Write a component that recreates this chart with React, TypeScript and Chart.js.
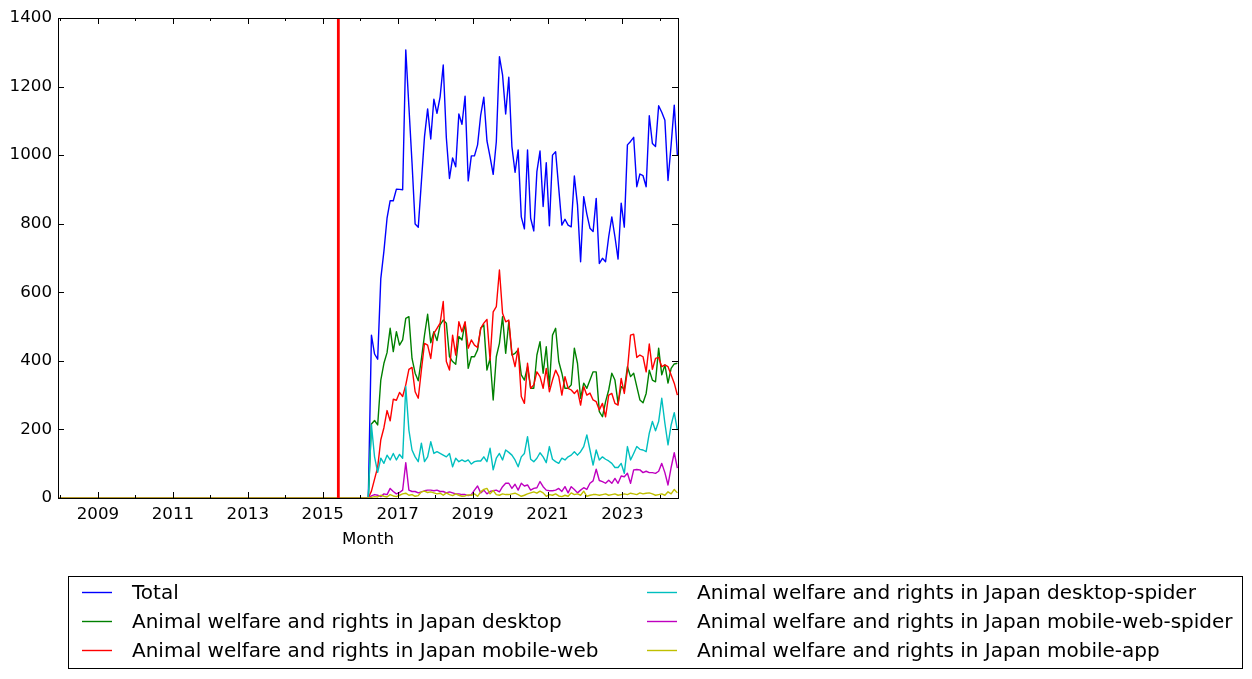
import React, { useEffect, useRef } from 'react';
import { Chart, registerables } from 'chart.js';

Chart.register(...registerables);

// Month index 0 = 2007-12; the article has no views until 2016-04 (index 100).
const ZERO_MONTHS = 100;

// Monthly views from 2016-04 to 2024-06 (99 months)
const TOTAL = [
  475, 420, 405, 640, 720, 816, 867, 867, 901, 900, 899, 1307, 1142, 978, 799, 790, 922, 1054, 1135, 1047,
  1163, 1122, 1170, 1263, 1050, 932, 992, 966, 1120, 1090, 1172, 925, 998, 998, 1030, 1117, 1169, 1042, 995, 944,
  1039, 1287, 1234, 1120, 1227, 1025, 950, 1015, 820, 785, 1015, 816, 779, 952, 1012, 850, 978, 794, 1000, 1010,
  903, 796, 813, 796, 791, 939, 855, 689, 879, 828, 787, 777, 874, 684, 699, 689, 762, 820, 762, 697,
  860, 790, 1030, 1040, 1052, 908, 945, 940, 908, 1115, 1034, 1025, 1144, 1125, 1102, 926, 1030, 1146, 1000,
];
const DESKTOP = [
  216, 226, 213, 344, 393, 424, 495, 427, 485, 446, 461, 524, 529, 407, 364, 342, 405, 475, 536, 453,
  485, 459, 505, 519, 510, 412, 398, 390, 471, 461, 511, 378, 412, 412, 432, 495, 505, 373, 407, 286,
  412, 451, 529, 422, 514, 417, 422, 432, 359, 344, 383, 320, 320, 417, 456, 364, 441, 325, 475, 495,
  398, 364, 320, 320, 330, 437, 393, 291, 335, 320, 344, 368, 368, 252, 237, 281, 315, 364, 344, 276,
  325, 317, 383, 354, 364, 325, 286, 278, 305, 373, 344, 339, 437, 359, 388, 335, 378, 391, 393,
];
const MOBILE_WEB = [
  20, 55, 90, 170, 205, 255, 225, 288, 285, 308, 296, 330, 375, 381, 310, 291, 373, 451, 446, 407,
  480, 495, 510, 573, 398, 373, 475, 417, 514, 485, 514, 437, 461, 446, 439, 495, 510, 521, 402, 543,
  558, 665, 539, 514, 519, 422, 383, 437, 296, 276, 393, 320, 330, 368, 354, 320, 378, 310, 344, 373,
  354, 300, 354, 320, 315, 305, 315, 271, 325, 300, 306, 286, 281, 257, 276, 237, 300, 305, 276, 271,
  349, 305, 373, 475, 478, 410, 417, 412, 368, 449, 375, 407, 410, 383, 388, 383, 359, 335, 300,
];
const DESKTOP_SPIDER = [
  213, 120, 75, 116, 101, 125, 111, 130, 111, 127, 116, 325, 198, 140, 120, 106, 160, 106, 120, 164,
  130, 135, 130, 125, 120, 130, 91, 116, 106, 111, 106, 111, 99, 106, 108, 108, 120, 106, 145, 82,
  116, 130, 111, 140, 133, 125, 111, 91, 120, 130, 179, 113, 106, 116, 132, 120, 103, 150, 113, 106,
  101, 116, 111, 120, 125, 135, 125, 135, 150, 184, 140, 96, 140, 111, 120, 113, 108, 101, 89, 89,
  101, 72, 150, 111, 130, 150, 142, 140, 135, 189, 223, 196, 223, 291, 218, 155, 213, 249, 198,
];
const MOBILE_WEB_SPIDER = [
  6, 10, 8, 4, 12, 10, 28, 19, 12, 16, 23, 103, 23, 19, 19, 15, 18, 21, 23, 23,
  21, 23, 19, 19, 15, 18, 15, 12, 12, 10, 10, 7, 10, 23, 35, 15, 23, 12, 19, 21,
  23, 18, 33, 43, 43, 28, 40, 23, 43, 35, 38, 23, 28, 30, 48, 33, 23, 21, 21, 23,
  28, 19, 33, 15, 33, 25, 15, 23, 30, 25, 43, 50, 84, 51, 48, 43, 52, 43, 57, 43,
  64, 62, 72, 43, 82, 83, 82, 74, 78, 74, 74, 72, 78, 101, 74, 38, 89, 132, 87,
];
const MOBILE_APP = [
  2, 4, 3, 8, 5, 3, 10, 6, 4, 8, 12, 14, 8, 10, 5, 7, 18, 20, 16, 18,
  15, 12, 14, 8, 15, 10, 7, 12, 8, 5, 6, 9, 8, 12, 5, 18, 25, 28, 12, 22,
  10, 8, 12, 10, 10, 12, 14, 10, 5, 8, 12, 15, 18, 14, 20, 15, 5, 10, 8, 12,
  6, 4, 8, 5, 15, 10, 12, 8, 20, 5, 8, 10, 10, 8, 10, 12, 8, 10, 12, 8,
  10, 12, 10, 14, 12, 10, 15, 12, 14, 15, 12, 8, 10, 12, 8, 18, 12, 25, 15,
];

const SERIES = [TOTAL, DESKTOP, MOBILE_WEB, DESKTOP_SPIDER, MOBILE_WEB_SPIDER, MOBILE_APP];
const SERIES_LABELS = [
  'Total',
  'Animal welfare and rights in Japan desktop',
  'Animal welfare and rights in Japan mobile-web',
  'Animal welfare and rights in Japan desktop-spider',
  'Animal welfare and rights in Japan mobile-web-spider',
  'Animal welfare and rights in Japan mobile-app',
];
const SERIES_COLORS = ['#0000ff', '#008000', '#ff0000', '#00bfbf', '#bf00bf', '#bfbf00'];

const YEARS = [2008, 2009, 2010, 2011, 2012, 2013, 2014, 2015, 2016, 2017, 2018, 2019, 2020, 2021, 2022, 2023, 2024];
const YEAR_LABELS = ['', '2009', '', '2011', '', '2013', '', '2015', '', '2017', '', '2019', '', '2021', '', '2023', ''];
const Y_TICKS = [0, 200, 400, 600, 800, 1000, 1200, 1400];
const MARKER_MONTH = 89.4; // red vertical marker (mid 2015)

const X_MIN = -0.4;
const X_MAX = 198.2;
const yearPos = (yr: number) => (yr - 2008) * 12 + 0.4;

const FONT = '"DejaVu Sans", sans-serif';

const framePlugin = {
  id: 'frameTicks',
  afterDatasetsDraw(chart: any) {
    const { ctx, chartArea: a, scales } = chart;
    ctx.save();
    ctx.strokeStyle = '#000';
    ctx.lineWidth = 1;
    ctx.beginPath();
    YEARS.forEach((yr, i) => {
      const px = Math.round(scales.x.getPixelForValue(yearPos(yr))) + 0.5;
      const len = YEAR_LABELS[i] ? 6 : 3;
      ctx.moveTo(px, a.bottom);
      ctx.lineTo(px, a.bottom - len);
      ctx.moveTo(px, a.top);
      ctx.lineTo(px, a.top + len);
    });
    Y_TICKS.forEach((v) => {
      const py = Math.round(scales.y.getPixelForValue(v)) + 0.5;
      ctx.moveTo(a.left, py);
      ctx.lineTo(a.left + 6, py);
      ctx.moveTo(a.right, py);
      ctx.lineTo(a.right - 6, py);
    });
    ctx.stroke();
    ctx.strokeRect(a.left + 0.5, a.top + 0.5, a.right - a.left, a.bottom - a.top);
    ctx.restore();
  },
};

const legendPlugin = {
  id: 'boxLegend',
  afterDraw(chart: any) {
    const { ctx } = chart;
    ctx.save();
    ctx.strokeStyle = '#000';
    ctx.lineWidth = 1;
    ctx.strokeRect(68.5, 576.5, 1174, 92);
    ctx.font = `20px ${FONT}`;
    ctx.fillStyle = '#000';
    ctx.textBaseline = 'alphabetic';
    ctx.textAlign = 'left';
    const rows = [592, 621, 650];
    const cols = [
      { hx: 82, tx: 132 },
      { hx: 647, tx: 697 },
    ];
    SERIES_LABELS.forEach((label, i) => {
      const col = cols[Math.floor(i / 3)];
      const y = rows[i % 3];
      ctx.strokeStyle = SERIES_COLORS[i];
      ctx.lineWidth = 1.4;
      ctx.beginPath();
      ctx.moveTo(col.hx, y + 0.5);
      ctx.lineTo(col.hx + 30, y + 0.5);
      ctx.stroke();
      ctx.fillText(label, col.tx, y + 7);
    });
    ctx.restore();
  },
};

export default function App() {
  const canvasRef = useRef<HTMLCanvasElement | null>(null);

  useEffect(() => {
    if (!canvasRef.current) return;
    Chart.defaults.font.family = FONT;
    Chart.defaults.color = '#000';

    const zeros = new Array(ZERO_MONTHS).fill(0);
    const datasets: any[] = SERIES.map((vals, i) => ({
      label: SERIES_LABELS[i],
      data: zeros.concat(vals).map((y: number, n: number) => ({ x: n, y })),
      borderColor: SERIES_COLORS[i],
      backgroundColor: SERIES_COLORS[i],
      borderWidth: 1.4,
      pointRadius: 0,
      tension: 0,
      fill: false,
      borderJoinStyle: 'round',
      order: SERIES.length - i,
    }));
    datasets.push({
      label: 'marker',
      data: [
        { x: MARKER_MONTH, y: 0 },
        { x: MARKER_MONTH, y: 1400 },
      ],
      borderColor: '#ff0000',
      borderWidth: 2.8,
      pointRadius: 0,
      fill: false,
      order: 0,
    });

    const chart = new Chart(canvasRef.current, {
      type: 'line',
      data: { datasets },
      plugins: [framePlugin, legendPlugin],
      options: {
        animation: false,
        responsive: false,
        devicePixelRatio: 1,
        events: [],
        layout: { padding: { top: 18, left: 0, right: 574, bottom: 125 } },
        plugins: { legend: { display: false }, tooltip: { enabled: false }, title: { display: false } },
        scales: {
          x: {
            type: 'linear',
            min: X_MIN,
            max: X_MAX,
            grid: { display: false, drawTicks: false, tickLength: 0 },
            border: { display: false },
            afterBuildTicks: (axis: any) => {
              axis.ticks = YEARS.map((yr) => ({ value: yearPos(yr) }));
            },
            afterFit: (axis: any) => {
              axis.height = 56;
            },
            ticks: {
              autoSkip: false,
              maxRotation: 0,
              minRotation: 0,
              padding: 7,
              color: '#000',
              font: { size: 16.67, family: FONT },
              callback: (_v: any, i: number) => YEAR_LABELS[i] ?? '',
            },
            title: {
              display: true,
              text: 'Month',
              color: '#000',
              font: { size: 16.67, family: FONT },
              padding: { top: 0, bottom: 4.5 },
            },
          },
          y: {
            type: 'linear',
            min: 0,
            max: 1400,
            grid: { display: false, drawTicks: false, tickLength: 0 },
            border: { display: false },
            afterBuildTicks: (axis: any) => {
              axis.ticks = Y_TICKS.map((v) => ({ value: v }));
            },
            afterFit: (axis: any) => {
              axis.width = 58;
            },
            ticks: {
              padding: 6,
              color: '#000',
              font: { size: 16.67, family: FONT },
              callback: (v: any) => String(v),
            },
          },
        },
      },
    });
    return () => chart.destroy();
  }, []);

  return (
    <div style={{ position: 'fixed', left: 0, top: 0, width: 1252, height: 679, background: '#fff' }}>
      <canvas ref={canvasRef} width={1252} height={679} style={{ display: 'block' }} />
    </div>
  );
}
